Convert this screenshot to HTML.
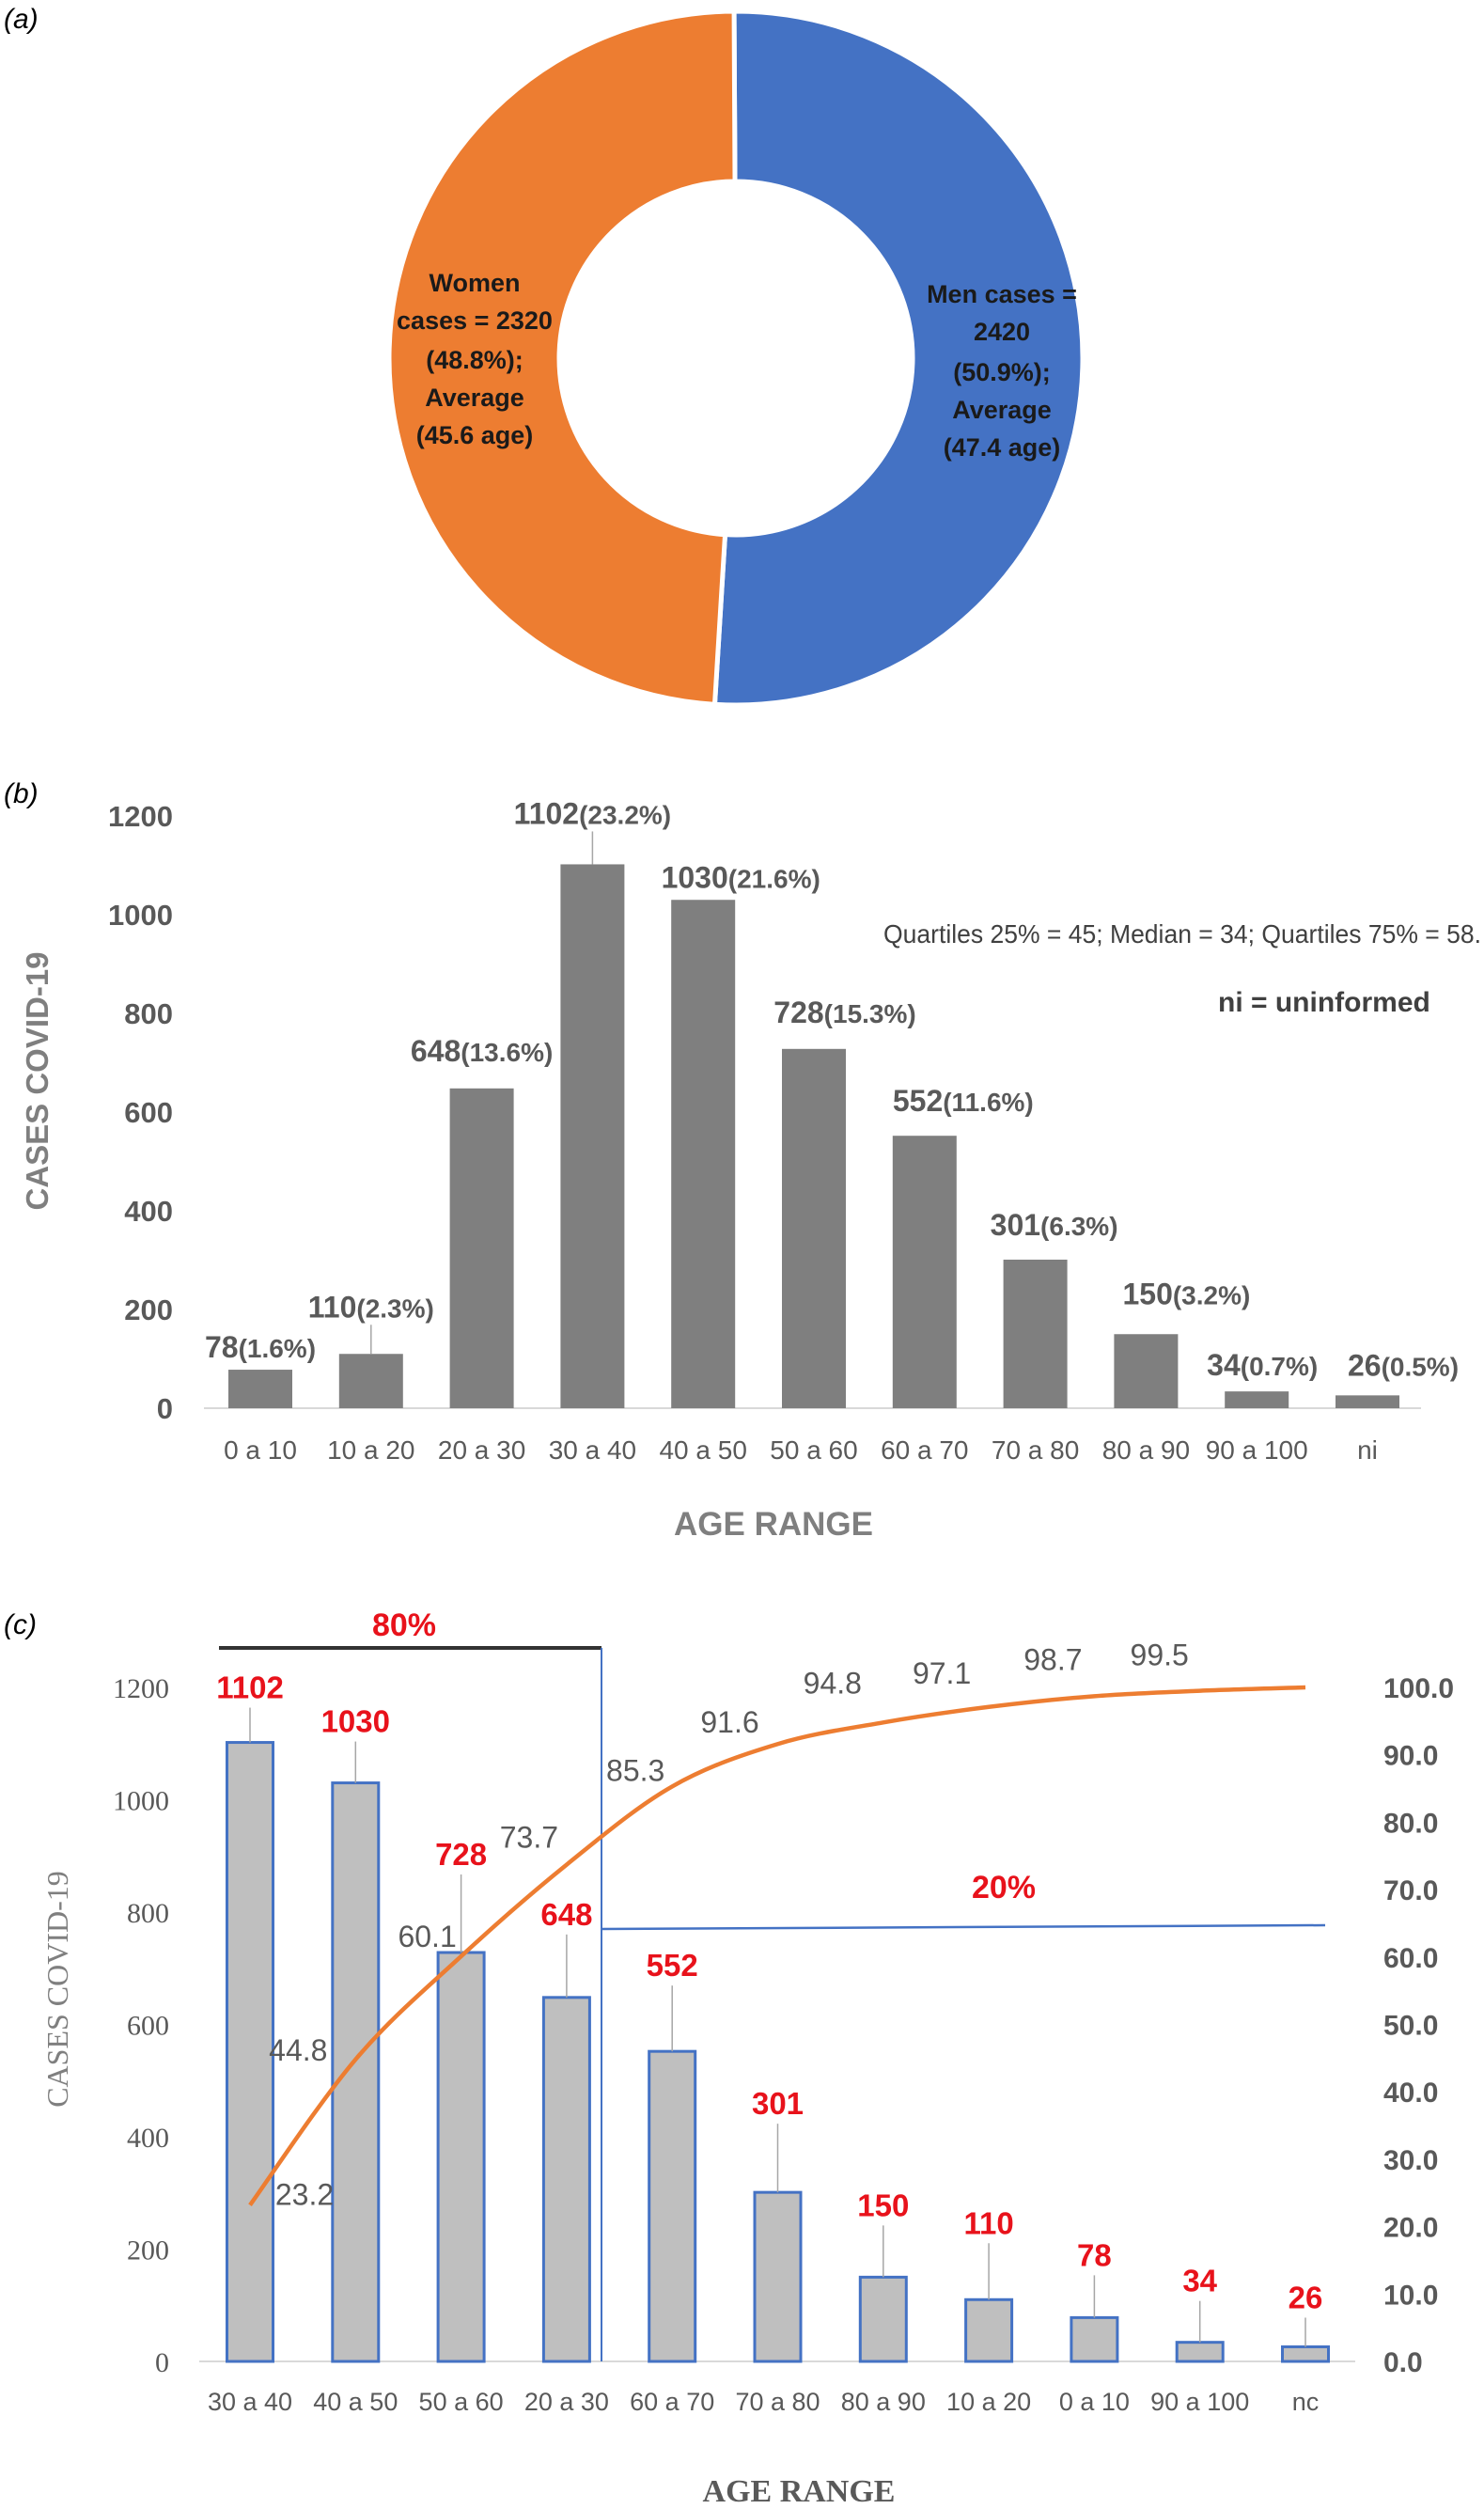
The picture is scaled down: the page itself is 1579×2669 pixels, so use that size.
<!DOCTYPE html>
<html><head><meta charset="utf-8">
<style>
html,body{margin:0;padding:0;background:#fff;}
svg{display:block;}
text{font-family:"Liberation Sans Narrow","Liberation Sans",sans-serif;}
.serif{font-family:"Liberation Serif",serif;}
</style></head>
<body>
<svg id="fig" width="1579" height="2669" viewBox="0 0 1579 2669" xmlns="http://www.w3.org/2000/svg">
  <!-- Panel a -->
  <text x="4" y="30" font-size="30" font-style="italic" fill="#000">(a)</text>
  <g id="donut"></g>
  <text x="4" y="854" font-size="30" font-style="italic" fill="#000">(b)</text>
  <g id="chartB"></g>
  <text x="4" y="1738" font-size="30" font-style="italic" fill="#000">(c)</text>
  <g id="chartC"></g>
</svg>
<script>
// ---------- Panel A data ----------
const sexLabels = ["Men", "Women"];
const sexCases = [2420, 2320];
const sexColors = ["#4472c4", "#ed7d31"];

// ---------- Panel B data ----------
const ageCatsB = ["0 a 10","10 a 20","20 a 30","30 a 40","40 a 50","50 a 60","60 a 70","70 a 80","80 a 90","90 a 100","ni"];
const casesB = [78, 110, 648, 1102, 1030, 728, 552, 301, 150, 34, 26];
const pctB = ["(1.6%)","(2.3%)","(13.6%)","(23.2%)","(21.6%)","(15.3%)","(11.6%)","(6.3%)","(3.2%)","(0.7%)","(0.5%)"];
const ticksB = [0, 200, 400, 600, 800, 1000, 1200];

// ---------- Panel C data ----------
const ageCatsC = ["30 a 40","40 a 50","50 a 60","20 a 30","60 a 70","70 a 80","80 a 90","10 a 20","0 a 10","90 a 100","nc"];
const casesC = [1102, 1030, 728, 648, 552, 301, 150, 110, 78, 34, 26];
const cumPctC = [23.2, 44.8, 60.1, 73.7, 85.3, 91.6, 94.8, 97.1, 98.7, 99.5, 100.0];
const ticksCLeft = [0, 200, 400, 600, 800, 1000, 1200];
const ticksCRight = [0, 10, 20, 30, 40, 50, 60, 70, 80, 90, 100];

const NS = "http://www.w3.org/2000/svg";
function mk(parent, tag, attrs, txt) {
  const e = document.createElementNS(NS, tag);
  for (const k in attrs) e.setAttribute(k, attrs[k]);
  if (txt !== undefined) e.textContent = txt;
  parent.appendChild(e);
  return e;
}

// ================= Panel A =================
(function () {
  const g = document.getElementById("donut");
  const cx = 783, cy = 381, R = 369, r = 188;
  const total = sexCases.reduce((a, b) => a + b, 0);
  let start = -0.3;
  function pt(rad, deg) {
    const a = (deg - 90) * Math.PI / 180;
    return [cx + rad * Math.cos(a), cy + rad * Math.sin(a)];
  }
  sexCases.forEach((v, i) => {
    const sweep = v / total * 360;
    const end = start + sweep;
    const [x1, y1] = pt(R, start), [x2, y2] = pt(R, end);
    const [x3, y3] = pt(r, end), [x4, y4] = pt(r, start);
    const large = sweep > 180 ? 1 : 0;
    const d = `M${x1},${y1} A${R},${R} 0 ${large} 1 ${x2},${y2} L${x3},${y3} A${r},${r} 0 ${large} 0 ${x4},${y4} Z`;
    const p = mk(g, "path", { d: d, fill: sexColors[i], stroke: "#fff", "stroke-width": 5 });
    
    
    start = end;
  });
  const womenLines = ["Women", "cases = 2320", "(48.8%);", "Average", "(45.6 age)"];
  const womenY = [310, 350, 392, 432, 472];
  const wt = mk(g, "text", { "font-size": 27, "font-weight": "bold", fill: "#1a1a1a", "text-anchor": "middle" });
  
  
  womenLines.forEach((t, i) => mk(wt, "tspan", { x: 505, y: womenY[i] }, t));
  const menLines = ["Men cases =", "2420", "(50.9%);", "Average", "(47.4 age)"];
  const menY = [322, 362, 405, 445, 485];
  const mt = mk(g, "text", { "font-size": 27, "font-weight": "bold", fill: "#1a1a1a", "text-anchor": "middle" });
  
  
  menLines.forEach((t, i) => mk(mt, "tspan", { x: 1066, y: menY[i] }, t));
})();

// ================= Panel B =================
(function () {
  const g = document.getElementById("chartB");
  const y0 = 1498, yTop = 868, vMax = 1200;
  const yS = v => y0 - v / vMax * (y0 - yTop);
  const x0 = 277, step = 117.8;
  const xS = i => x0 + i * step;
  const bw = 68;
  const labelGap = [13, 39, 29, 43, 13, 28, 26, 26, 32, 17, 21];
  const labelDx = [0, 0, 0, 0, 40, 33, 41, 20, 43, 6, 38];
  const leader = [false, true, false, true, false, false, false, false, false, false, false];

  ticksB.forEach(t => {
    const e = mk(g, "text", { x: 184, y: yS(t) + 11, "font-size": 31, "font-weight": "bold", fill: "#595959", "text-anchor": "end" }, String(t));
    
    
  });
  const ax = mk(g, "line", { x1: 217, x2: 1512, y1: y0, y2: y0, stroke: "#d9d9d9", "stroke-width": 2 });
  
  

  casesB.forEach((v, i) => {
    const b = mk(g, "rect", { x: xS(i) - bw / 2, y: yS(v), width: bw, height: y0 - yS(v), fill: "#7f7f7f" });
    
    
    const ly = yS(v) - labelGap[i];
    if (leader[i]) {
      const l = mk(g, "line", { x1: xS(i), x2: xS(i), y1: ly + 8, y2: yS(v), stroke: "#a6a6a6", "stroke-width": 1.5 });
      
      
    }
    const t = mk(g, "text", { x: xS(i) + labelDx[i], y: ly, "font-size": 32, "font-weight": "bold", fill: "#595959", "text-anchor": "middle" });
    
    
    mk(t, "tspan", {}, String(v));
    mk(t, "tspan", { "font-size": 28 }, pctB[i]);
    const c = mk(g, "text", { x: xS(i), y: 1552, "font-size": 28, fill: "#595959", "text-anchor": "middle" }, ageCatsB[i]);
    
    
  });

  const yt = mk(g, "text", { x: 0, y: 0, "font-size": 33, "font-weight": "bold", fill: "#7f7f7f", "text-anchor": "middle", transform: "translate(51,1150) rotate(-90)" }, "CASES COVID-19");
  
  
  const xt = mk(g, "text", { x: 823, y: 1633, "font-size": 35, "font-weight": "bold", fill: "#7f7f7f", "text-anchor": "middle" }, "AGE RANGE");
  
  
  const q = mk(g, "text", { x: 940, y: 1003, "font-size": 28, fill: "#404040", textLength: 636, lengthAdjust: "spacingAndGlyphs" }, "Quartiles 25% = 45; Median = 34; Quartiles 75% =  58.");
  
  
  const ni = mk(g, "text", { x: 1296, y: 1076, "font-size": 30, "font-weight": "bold", fill: "#404040" }, "ni = uninformed");
  
  
})();

// ================= Panel C =================
(function () {
  const g = document.getElementById("chartC");
  const y0 = 2512, yTop = 1795;
  const yL = v => y0 - v / 1200 * (y0 - yTop);
  const yR = p => y0 - p / 100 * (y0 - yTop);
  const x0 = 266, step = 112.3;
  const xS = i => x0 + i * step;
  const bw = 49;
  const redGap = [47, 54, 93, 77, 80, 83, 65, 70, 55, 54, 41];
  const cumDx = [58, -61, -36, -40, -39, -51, -54, -50, -44, -43];
  const cumDy = [0, 1, -10, -18, -6, -12, -31, -25, -28, -27];

  ticksCLeft.forEach(t => {
    const e = mk(g, "text", { x: 180, y: yL(t) + 11, "font-size": 30, fill: "#595959", "text-anchor": "end", class: "serif" }, String(t));
    
    
  });
  ticksCRight.forEach(t => {
    const e = mk(g, "text", { x: 1472, y: yR(t) + 11, "font-size": 30, "font-weight": "bold", fill: "#595959" }, t.toFixed(1));
    
    
  });
  const ax = mk(g, "line", { x1: 212, x2: 1442, y1: y0, y2: y0, stroke: "#d9d9d9", "stroke-width": 2 });
  
  

  casesC.forEach((v, i) => {
    const b = mk(g, "rect", { x: xS(i) - bw / 2, y: yL(v), width: bw, height: y0 - yL(v), fill: "#bfbfbf", stroke: "#4472c4", "stroke-width": 3 });
    
    
    const ly = yL(v) - redGap[i];
    const l = mk(g, "line", { x1: xS(i), x2: xS(i), y1: ly + 10, y2: yL(v), stroke: "#a6a6a6", "stroke-width": 1.5 });
    
    
    const t = mk(g, "text", { x: xS(i), y: ly, "font-size": 33, "font-weight": "bold", fill: "#e8121b", "text-anchor": "middle" }, String(v));
    
    
    const c = mk(g, "text", { x: xS(i), y: 2564, "font-size": 27, fill: "#595959", "text-anchor": "middle" }, ageCatsC[i]);
    
    
  });

  // reference lines
  const bl = mk(g, "line", { x1: 233, x2: 640, y1: 1753, y2: 1753, stroke: "#333", "stroke-width": 4 });
  
  
  const vl = mk(g, "line", { x1: 640, x2: 640, y1: 1753, y2: y0, stroke: "#4472c4", "stroke-width": 2 });
  
  
  const hl = mk(g, "line", { x1: 640, x2: 1410, y1: 2052, y2: 2048, stroke: "#4472c4", "stroke-width": 2.5 });
  
  
  const t80 = mk(g, "text", { x: 430, y: 1740, "font-size": 34, "font-weight": "bold", fill: "#e8121b", "text-anchor": "middle" }, "80%");
  
  
  const t20 = mk(g, "text", { x: 1068, y: 2019, "font-size": 34, "font-weight": "bold", fill: "#e8121b", "text-anchor": "middle" }, "20%");
  
  

  // cumulative line
  const pts = cumPctC.map((p, i) => [xS(i), yR(p)]);
  let d = "M" + pts[0][0] + "," + pts[0][1];
  for (let i = 1; i < pts.length; i++) {
    const p0 = pts[Math.max(0, i - 2)], p1 = pts[i - 1], p2 = pts[i], p3 = pts[Math.min(pts.length - 1, i + 1)];
    const c1 = [p1[0] + (p2[0] - p0[0]) / 6, p1[1] + (p2[1] - p0[1]) / 6];
    const c2 = [p2[0] - (p3[0] - p1[0]) / 6, p2[1] - (p3[1] - p1[1]) / 6];
    d += ` C${c1[0]},${c1[1]} ${c2[0]},${c2[1]} ${p2[0]},${p2[1]}`;
  }
  const ln = mk(g, "path", { d: d, fill: "none", stroke: "#ed7d31", "stroke-width": 4.5, "stroke-linejoin": "round" });
  
  
  cumPctC.forEach((p, i) => {
    if (i >= cumDx.length) return;
    const t = mk(g, "text", { x: xS(i) + cumDx[i], y: yR(p) + cumDy[i], "font-size": 32, fill: "#595959", "text-anchor": "middle" }, p.toFixed(1));
    
    
  });

  const yt = mk(g, "text", { x: 0, y: 0, "font-size": 32, fill: "#7f7f7f", "text-anchor": "middle", class: "serif", transform: "translate(72,2116) rotate(-90)" }, "CASES COVID-19");
  
  
  const xt = mk(g, "text", { x: 850, y: 2661, "font-size": 34, "font-weight": "bold", fill: "#595959", "text-anchor": "middle", class: "serif" }, "AGE RANGE");
  
  
})();
</script>
</body></html>
